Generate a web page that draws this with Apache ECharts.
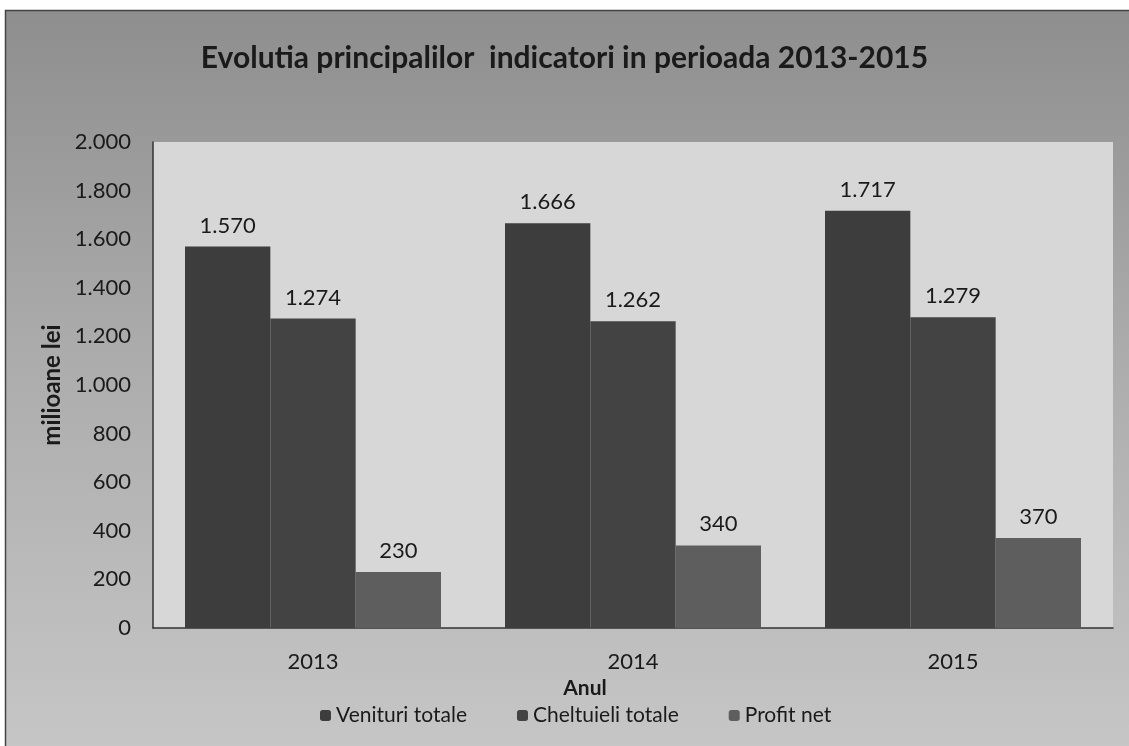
<!DOCTYPE html>
<html><head><meta charset="utf-8">
<script src="https://cdn.jsdelivr.net/npm/echarts@6/dist/echarts.min.js"></script>
<style>html,body{margin:0;padding:0;background:#fff}#c{width:1129px;height:746px}</style>
</head><body><div id="c"></div>
<script>
const categories = ['2013', '2014', '2015'];
const venituri = [1570, 1666, 1717];
const cheltuieli = [1274, 1262, 1279];
const profit = [230, 340, 370];
const yTicks = [0, 200, 400, 600, 800, 1000, 1200, 1400, 1600, 1800, 2000];

const fmt = v => {
  const s = String(v);
  return s.length > 3 ? s.slice(0, s.length - 3) + '.' + s.slice(-3) : s;
};
const font = 'Lato, "Open Sans", sans-serif';
const chart = echarts.init(document.getElementById('c'), null, {renderer: 'canvas'});
const lbl = {show: true, position: 'top', distance: 10, fontSize: 22, color: '#1a1a1a', fontFamily: font, formatter: p => fmt(p.value)};
chart.setOption({
  animation: false,
  graphic: [{
    type: 'rect', z: -10, silent: true,
    shape: {x: 5.5, y: 10.5, width: 1125, height: 737},
    style: {
      fill: new echarts.graphic.LinearGradient(0, 0, 0, 1, [
        {offset: 0, color: '#8e8e8e'}, {offset: 0.45, color: '#ababab'}, {offset: 1, color: '#c6c6c6'}
      ]),
      stroke: '#444', lineWidth: 1.5
    }
  }],
  title: {
    text: 'Evolutia principalilor  indicatori in perioada 2013-2015',
    left: 'center', top: 38,
    textStyle: {fontSize: 30, fontWeight: 'bold', color: '#1a1a1a', fontFamily: font}
  },
  legend: {
    top: 700, left: 315, itemWidth: 11, itemHeight: 11, itemGap: 50,
    textStyle: {fontSize: 21, color: '#1a1a1a', fontFamily: font},
    data: ['Venituri totale', 'Cheltuieli totale', 'Profit net']
  },
  grid: {left: 153, right: 16, top: 142, bottom: 118, show: true, backgroundColor: '#d7d7d7', borderWidth: 0},
  xAxis: {
    type: 'category', data: categories,
    name: 'Anul', nameLocation: 'middle', nameGap: 49,
    nameTextStyle: {fontSize: 21, fontWeight: 'bold', color: '#1a1a1a', fontFamily: font, padding: [0, 96, 0, 0]},
    axisLine: {lineStyle: {color: '#333', width: 1.5}},
    axisTick: {show: false},
    axisLabel: {fontSize: 22, color: '#1a1a1a', margin: 23, fontFamily: font}
  },
  yAxis: {
    type: 'value', min: yTicks[0], max: yTicks[yTicks.length - 1], interval: 200,
    name: 'milioane lei', nameLocation: 'middle', nameGap: 86, nameRotate: 90,
    nameTextStyle: {fontSize: 24, fontWeight: 'bold', color: '#1a1a1a', fontFamily: font},
    axisLine: {show: true, lineStyle: {color: '#333', width: 1.5}},
    axisTick: {show: false},
    splitLine: {show: false},
    axisLabel: {fontSize: 22, color: '#1a1a1a', margin: 22, fontFamily: font, formatter: v => fmt(v)}
  },
  series: [
    {name: 'Venituri totale', type: 'bar', data: venituri, barGap: '0%', barCategoryGap: '20%', itemStyle: {color: '#3d3d3d'}, label: lbl},
    {name: 'Cheltuieli totale', type: 'bar', data: cheltuieli, itemStyle: {color: '#434343'}, label: lbl},
    {name: 'Profit net', type: 'bar', data: profit, itemStyle: {color: '#5e5e5e'}, label: lbl}
  ]
});
</script></body></html>
